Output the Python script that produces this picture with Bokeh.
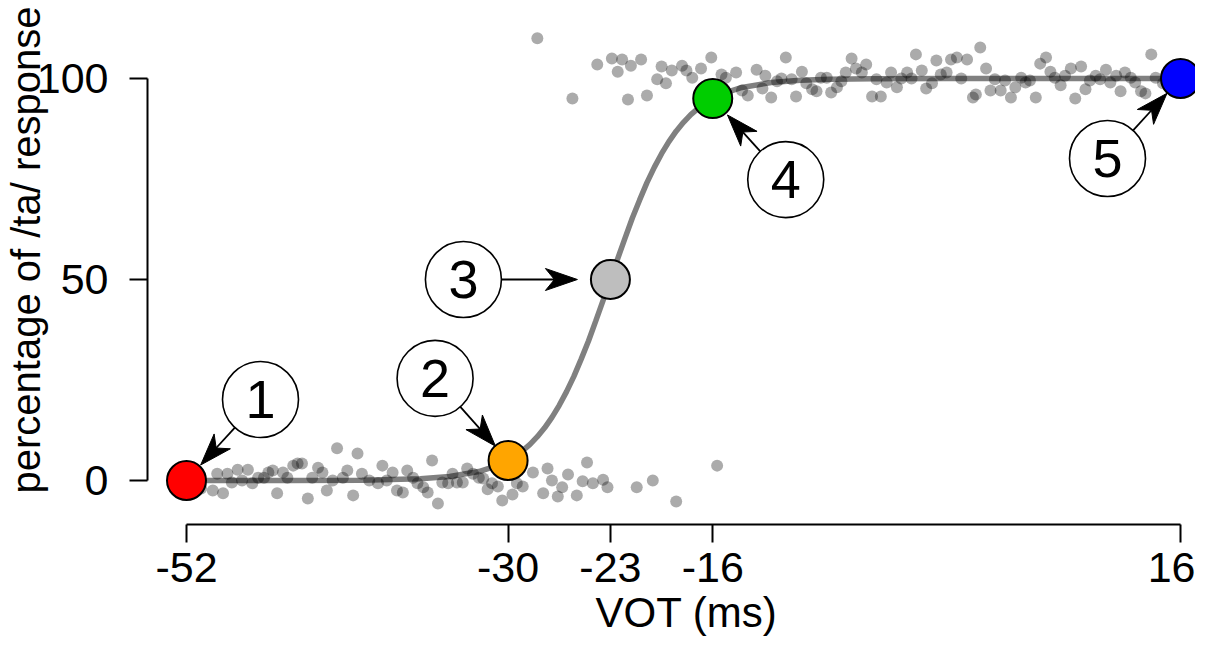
import numpy as np
from bokeh.plotting import figure
from bokeh.models import Range1d, FixedTicker, Title
from bokeh.core.properties import value
from bokeh.embed import file_html
from bokeh.resources import INLINE

# ---------------- data ----------------
x_ticks = [-52, -30, -23, -16, 16]
y_ticks = [0, 50, 100]

curve_vot = [-52, -45, -40, -36, -34, -32, -31, -30, -29.5, -29, -28.5, -28, -27.5, -27, -26.5,
             -26, -25.5, -25, -24.5, -24, -23.5, -23, -22.5, -22, -21.5, -21, -20.5, -20, -19.5,
             -19, -18.5, -18, -17.5, -17, -16.5, -16, -15, -14, -12, -10, -8, -5, 0, 5, 10, 16]
curve_pct = [0.0, 0.01, 0.08, 0.42, 0.98, 2.23, 3.36, 5.0, 6.1, 7.45, 9.0, 10.9, 13.1, 15.7, 18.7,
             22.1, 25.9, 30.2, 34.7, 39.7, 44.8, 50.0, 55.2, 60.3, 65.3, 69.8, 74.1, 77.9, 81.3,
             84.3, 86.9, 89.1, 91.0, 92.55, 93.9, 95.0, 96.64, 97.77, 99.02, 99.58, 99.82, 99.95,
             99.99, 100.0, 100.0, 100.0]

resp_vot = [-51.5, -51.0, -50.2, -49.9, -49.5, -49.2, -48.9, -48.5, -48.2, -47.8, -47.5, -47.1,
            -46.7, -46.4, -46.1, -45.8, -45.4, -45.1, -44.7, -44.4, -44.1, -43.7, -43.4, -43.0,
            -42.7, -42.4, -42.0, -41.7, -41.3, -41.0, -40.6, -40.3, -40.0, -39.5, -38.9, -38.6,
            -38.3, -37.9, -37.6, -37.2, -36.9, -36.5, -36.2, -35.8, -35.5, -35.2, -34.8, -34.5,
            -34.1, -33.8, -33.5, -33.1, -32.8, -32.4, -32.0, -31.7, -31.4, -31.1, -30.7, -30.4,
            -29.7, -29.4, -29.0, -28.3, -27.6, -27.3, -27.0, -26.6, -26.3, -25.9, -25.3, -24.9,
            -24.6, -24.2, -23.5, -23.2, -21.2, -20.1, -18.5, -15.7,
            -28.0, -25.6, -23.9, -22.9, -22.5, -22.2, -21.8, -21.6, -20.9, -20.5, -19.8, -19.5,
            -19.2, -18.8, -18.1, -17.8, -17.4, -16.8, -16.1, -15.4, -15.1, -14.4, -14.0, -13.6,
            -13.0, -12.6, -12.4, -12.0, -11.6, -11.3, -11.0, -10.6, -10.3, -9.9, -9.6, -9.2,
            -8.9, -8.6, -8.2, -7.9, -7.5, -7.2, -6.9, -6.5, -6.2, -5.8, -5.5, -5.1, -4.8, -4.5,
            -4.1, -3.8, -3.4, -3.1, -2.7, -2.4, -2.1, -1.7, -1.4, -1.0, -0.7, -0.4, 0.0, 0.3,
            0.7, 1.0, 1.4, 1.8, 2.0, 2.3, 2.7, 3.0, 3.3, 3.7, 4.0, 4.4, 4.7, 5.1, 5.4, 5.7, 6.1,
            6.4, 6.8, 7.1, 7.4, 7.8, 8.1, 8.5, 8.8, 9.2, 9.5, 9.8, 10.2, 10.5, 10.9, 11.2, 11.6,
            11.9, 12.2, 12.6, 12.9, 13.3, 13.6, 14.0, 14.3, 14.8]
resp_pct = [1.0, -2.0, -2.5, 1.7, -3.2, 1.7, -0.5, 2.7, 0.0, 2.7, -0.7, 0.7,
            0.7, 2.0, 2.5, -3.2, 2.0, 0.7, 3.7, 4.2, 4.2, -4.5, 0.7, 3.2,
            2.0, -2.5, 0.0, 8.0, 0.7, 2.5, -3.7, 6.7, 1.7, 0.0, -0.7, 3.7,
            0.0, 2.0, -2.5, -3.0, 2.5, 0.7, -0.7, -1.7, -3.0, 5.0, -5.7, -0.5,
            -0.7, 1.7, -0.5, -0.5, 3.0, 1.7, 0.7, 0.5, -2.2, -0.7, -1.5, -5.0,
            -3.5, -0.7, -1.5, 2.0, -3.2, 3.0, 0.0, -4.0, -1.7, 1.5, -3.7, -0.2,
            4.5, -0.7, 0.2, -1.7, -1.7, 0.0, -5.2, 3.7,
            110.0, 95.0, 103.5, 105.0, 101.7, 104.7, 94.8, 103.2, 104.7, 95.8, 99.8, 103.0,
            98.8, 102.0, 103.2, 102.0, 100.2, 102.5, 105.2, 101.0, 100.2, 101.5, 97.0, 95.8,
            102.2, 97.5, 100.7, 95.3, 99.3, 100.0, 105.2, 99.8, 95.5, 101.7, 98.8, 97.3,
            96.8, 100.2, 100.2, 96.5, 97.8, 99.3, 101.5, 105.0, 102.5, 101.5, 103.5, 95.5, 99.8, 95.5,
            99.0, 101.5, 97.8, 100.0, 101.5, 100.0, 106.0, 102.0, 97.5, 98.8, 104.5, 101.0, 101.5, 104.7,
            105.2, 100.0, 104.7, 95.3, 96.0, 107.7, 102.5, 97.0, 99.8, 97.0, 99.5, 95.3, 97.8, 100.2, 99.0, 99.5, 95.3,
            103.7, 105.2, 101.7, 100.2, 98.3, 100.7, 102.5, 95.0, 103.0, 97.3, 99.5, 100.7, 99.8, 102.2, 99.0, 100.7,
            96.8, 101.5, 100.2, 99.0, 96.8, 96.3, 106.0, 100.2, 98.8]

key_vot = [-52, -30, -23, -16, 16]
key_pct = [0, 5, 50, 95, 100]
key_labels = ["1", "2", "3", "4", "5"]
key_colors = ["#FF0000", "#FFA500", "#BEBEBE", "#00CD00", "#0000FF"]

# callout placement (screen pixels relative to the marked point, y up)
callout_dx = [74, -73, -147, 73, -73]
callout_dy = [81, 82, 0, -81, -80]
arrow_gap = [21, 19, 33, 22, 20]

# ---------------- layout ----------------
FONT = "Liberation Sans"
W, H = 1195, 644
BL, BR, BT, BB = 147, 0, 19, 120
FW, FH = W - BL - BR, H - BT - BB
X0, X1 = -54.668, 17.026
Y0, Y1 = -10.945, 114.677
sx = FW / (X1 - X0)
sy = FH / (Y1 - Y0)

p = figure(width=W, height=H, x_range=Range1d(X0, X1), y_range=Range1d(Y0, Y1),
           output_backend="svg", toolbar_location=None,
           min_border_left=BL, min_border_right=BR, min_border_top=BT, min_border_bottom=BB)
p.outline_line_color = None
p.grid.visible = False
p.background_fill_color = "white"
p.border_fill_color = "white"

for ax in (p.xaxis[0], p.yaxis[0]):
    ax.axis_line_color = "black"
    ax.axis_line_width = 2
    ax.major_tick_line_color = "black"
    ax.major_tick_line_width = 2
    ax.major_tick_in = 0
    ax.major_tick_out = 18
    ax.minor_tick_line_color = None
    ax.major_label_text_font = FONT
    ax.major_label_text_font_size = "43px"
    ax.major_label_text_color = "black"

p.xaxis[0].ticker = FixedTicker(ticks=x_ticks, minor_ticks=[])
p.yaxis[0].ticker = FixedTicker(ticks=y_ticks, minor_ticks=[])
p.xaxis[0].major_label_overrides = {t: str(t) for t in x_ticks}
p.yaxis[0].major_label_overrides = {t: str(t) for t in y_ticks}
p.xaxis[0].bounds = (min(x_ticks), max(x_ticks))
p.yaxis[0].bounds = (min(y_ticks), max(y_ticks))
p.xaxis[0].major_label_standoff = 10
p.yaxis[0].major_label_standoff = 21

# fitted curve
p.line(curve_vot, curve_pct, line_color="#808080", line_width=5.5)
# responses
p.scatter(resp_vot, resp_pct, size=12, fill_color="black", fill_alpha=0.33, line_color=None)
# key points
p.scatter(key_vot, key_pct, size=39, fill_color=key_colors, line_color="black", line_width=2)

# callouts (geometry in pixels, converted through the plot scales)
kx = np.array(key_vot, float)
ky = np.array(key_pct, float)
dx = np.array(callout_dx, float)
dy = np.array(callout_dy, float)
dist = np.hypot(dx, dy)
ux, uy = -dx / dist, -dy / dist          # unit vector callout -> point (pixels)
nx, ny = -uy, ux
R_CALL = 38
HEAD_L, HEAD_W, NOTCH = 32, 11, 9
gap = np.array(arrow_gap, float)
cx = kx + dx / sx
cy = ky + dy / sy
x_tip = kx - ux * gap / sx
y_tip = ky - uy * gap / sy
x_start = cx + ux * R_CALL / sx
y_start = cy + uy * R_CALL / sy
x_notch = x_tip - ux * (HEAD_L - NOTCH) / sx
y_notch = y_tip - uy * (HEAD_L - NOTCH) / sy
x_b1 = x_tip + (-ux * HEAD_L + nx * HEAD_W) / sx
y_b1 = y_tip + (-uy * HEAD_L + ny * HEAD_W) / sy
x_b2 = x_tip + (-ux * HEAD_L - nx * HEAD_W) / sx
y_b2 = y_tip + (-uy * HEAD_L - ny * HEAD_W) / sy

p.segment(x_start, y_start, x_notch, y_notch, line_color="black", line_width=1.8)
p.patches([[a, b, c, d] for a, b, c, d in zip(x_tip, x_b1, x_notch, x_b2)],
          [[a, b, c, d] for a, b, c, d in zip(y_tip, y_b1, y_notch, y_b2)],
          fill_color="black", line_color="black", line_width=1)

p.scatter(cx, cy, size=2 * R_CALL, fill_color="white", line_color="black", line_width=1.6)
p.text(cx, cy, text=key_labels, text_align="center", text_baseline="middle",
       text_font=value(FONT), text_font_size=value("54px"), text_color="black")

# axis titles
xt = Title(text="VOT (ms)", align="left", offset=448, vertical_align="bottom",
           text_font=FONT, text_font_size="42px", text_font_style="normal", text_color="black")
xt.standoff = 4
p.add_layout(xt, "below")

yt = Title(text="percentage of /ta/ response", align="left", offset=31, vertical_align="bottom",
           text_font=FONT, text_font_size="40px", text_font_style="normal", text_color="black")
try:
    yt.standoff = -28
except Exception:
    yt.standoff = 0
p.add_layout(yt, "left")

open("out.html", "w").write(file_html(p, INLINE))
